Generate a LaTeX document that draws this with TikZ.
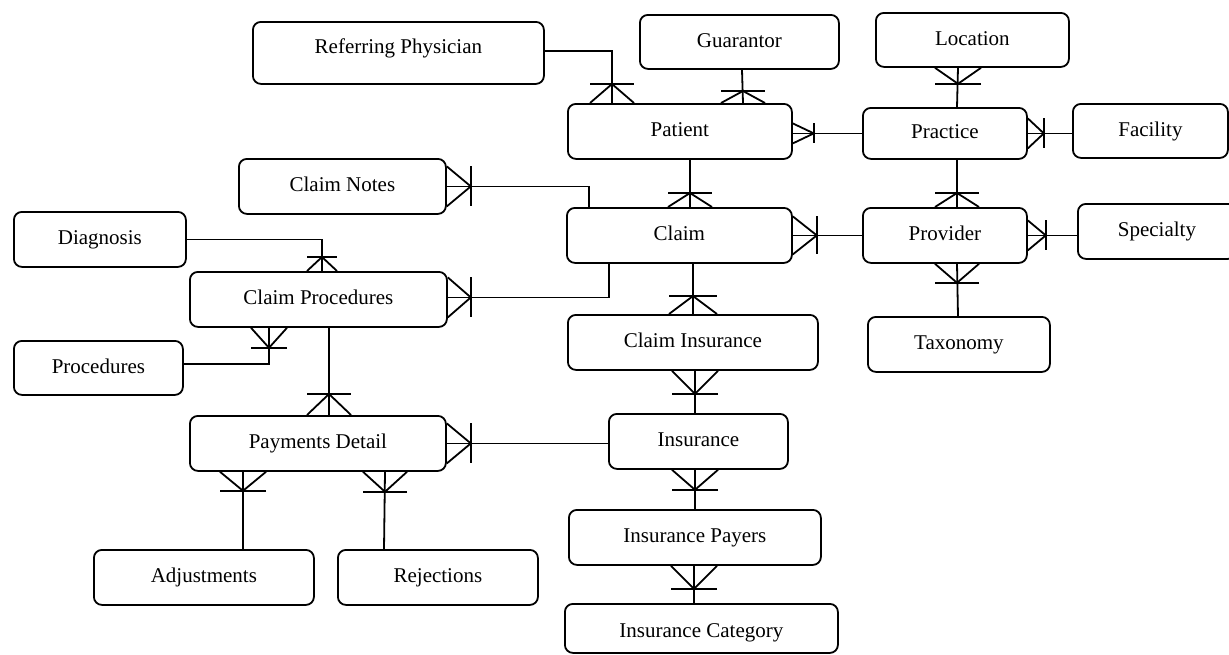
\documentclass[tikz,border=0pt]{standalone}
\usepackage{fontspec}
\setmainfont{Liberation Serif}
\begin{document}
\begin{tikzpicture}[x=1pt,y=-1pt,
  ent/.style={draw, line width=1.8pt, rounded corners=8pt, inner sep=0pt, anchor=north west,
    font=\fontsize{21}{24}\selectfont, text height=13pt, text depth=2pt},
  con/.style={line width=1.8pt},
  pics/crow/.style 2 args={code={
    \draw[con] (0,-#2) -- (#1,0) -- (0,#2);
    \draw[con] (#1,-#2) -- (#1,#2);}}
]
\useasboundingbox (0,0) rectangle (1229,654);

% entities
\node[ent, minimum width=291pt, minimum height=62pt, text depth=11pt] (rp) at (252,21) {Referring Physician};
\node[ent, minimum width=199pt, minimum height=54pt] (guar) at (639,14) {Guarantor};
\node[ent, minimum width=224pt, minimum height=55pt] (pat) at (567,103) {Patient};
\node[ent, minimum width=193pt, minimum height=54pt] (loc) at (875,12) {Location};
\node[ent, minimum width=164pt, minimum height=51pt] (prac) at (862,107) {Practice};
\node[ent, minimum width=155pt, minimum height=54pt] (fac) at (1072,103) {Facility};
\node[ent, minimum width=207pt, minimum height=55pt] (notes) at (238,158) {Claim Notes};
\node[ent, minimum width=225pt, minimum height=55pt] (claim) at (566,207) {Claim};
\node[ent, minimum width=164pt, minimum height=55pt] (prov) at (862,207) {Provider};
\node[ent, minimum width=158pt, minimum height=55pt] (spec) at (1077,203) {Specialty};
\node[ent, minimum width=172pt, minimum height=55pt] (diag) at (13,211) {Diagnosis};
\node[ent, minimum width=257pt, minimum height=55pt] (cproc) at (189,271) {Claim Procedures};
\node[ent, minimum width=169pt, minimum height=54pt] (proc) at (13,340) {Procedures};
\node[ent, minimum width=250pt, minimum height=55pt] (cins) at (567,314) {Claim Insurance};
\node[ent, minimum width=182pt, minimum height=55pt] (tax) at (867,316) {Taxonomy};
\node[ent, minimum width=256pt, minimum height=55pt] (pay) at (189,415) {Payments Detail};
\node[ent, minimum width=179pt, minimum height=55pt] (ins) at (608,413) {Insurance};
\node[ent, minimum width=220pt, minimum height=55pt] (adj) at (93,549) {Adjustments};
\node[ent, minimum width=200pt, minimum height=55pt] (rej) at (337,549) {Rejections};
\node[ent, minimum width=252pt, minimum height=55pt] (ipay) at (568,509) {Insurance Payers};
\node[ent, minimum width=273pt, minimum height=49pt, text height=21pt] (icat) at (564,603) {Insurance Category};

% connectors
\draw[con] ([yshift=2pt]rp.east) -| ([xshift=45pt]pat.north west);
\pic[rotate=90] at ([xshift=45pt]pat.north west) {crow={19}{22}};

\draw[con] ([xshift=103pt]guar.south west) -- ([xshift=176pt]pat.north west);
\pic[rotate=90] at ([xshift=176pt]pat.north west) {crow={12}{22}};

\draw[con] (pat.east |- prac.west) -- (prac.west);
\pic at (pat.east |- prac.west) {crow={21}{10}};

\draw[con] ([xshift=83pt]loc.south west) -- ([xshift=95pt]prac.north west);
\pic[rotate=-90] at ([xshift=83pt]loc.south west) {crow={16}{23}};

\draw[con] (prac.east) -- (fac.west |- prac.east);
\pic at (prac.east) {crow={16}{15}};

\draw[con] ([xshift=95pt]prac.south west) -- ([xshift=95pt]prov.north west);
\pic[rotate=90] at ([xshift=95pt]prov.north west) {crow={14}{22}};

\draw[con] (notes.east) -| ([xshift=23pt]claim.north west);
\pic at (notes.east) {crow={24}{20}};

\draw[con] ([xshift=123pt]pat.south west) -- ([xshift=124pt]claim.north west);
\pic[rotate=90] at ([xshift=124pt]claim.north west) {crow={14}{22}};

\draw[con] (claim.east) -- (prov.west);
\pic at (claim.east) {crow={24}{19}};

\draw[con] (prov.east) -- (spec.west |- prov.east);
\pic at (prov.east) {crow={18}{15}};

\draw[con] ([xshift=95pt]prov.south west) -- ([xshift=91pt]tax.north west);
\pic[rotate=-90] at ([xshift=95pt]prov.south west) {crow={19}{22}};

\draw[con] ([xshift=127pt]claim.south west) -- ([xshift=126pt]cins.north west);
\pic[rotate=90] at ([xshift=126pt]cins.north west) {crow={18}{24}};

\draw[con] ([xshift=43pt]claim.south west) |- ([yshift=2pt]cproc.east);
\pic at ([yshift=2pt]cproc.east) {crow={23}{20}};

\draw[con] (diag.east) -| ([xshift=133pt]cproc.north west);
\pic[rotate=90] at ([xshift=133pt]cproc.north west) {crow={14}{15}};

\draw[con] ([yshift=4pt]proc.east) -| ([xshift=80pt]cproc.south west);
\pic[rotate=-90] at ([xshift=80pt]cproc.south west) {crow={20}{18}};

\draw[con] ([xshift=140pt]cproc.south west) -- ([xshift=140pt]pay.north west);
\pic[rotate=90] at ([xshift=140pt]pay.north west) {crow={21}{22}};

\draw[con] (pay.east) -- (ins.west |- pay.east);
\pic at (pay.east) {crow={24}{20}};

\draw[con] ([xshift=54pt]pay.south west) -- ([xshift=150pt]adj.north west);
\pic[rotate=-90] at ([xshift=54pt]pay.south west) {crow={19}{23}};

\draw[con] ([xshift=196pt]pay.south west) -- ([xshift=47pt]rej.north west);
\pic[rotate=-90] at ([xshift=196pt]pay.south west) {crow={20}{22}};

\draw[con] ([xshift=128pt]cins.south west) -- ([xshift=87pt]ins.north west);
\pic[rotate=-90] at ([xshift=128pt]cins.south west) {crow={23}{23}};

\draw[con] ([xshift=87pt]ins.south west) -- ([xshift=127pt]ipay.north west);
\pic[rotate=-90] at ([xshift=87pt]ins.south west) {crow={20}{23}};

\draw[con] ([xshift=126pt]ipay.south west) -- ([xshift=130pt]icat.north west);
\pic[rotate=-90] at ([xshift=126pt]ipay.south west) {crow={23}{23}};
\end{tikzpicture}
\end{document}
